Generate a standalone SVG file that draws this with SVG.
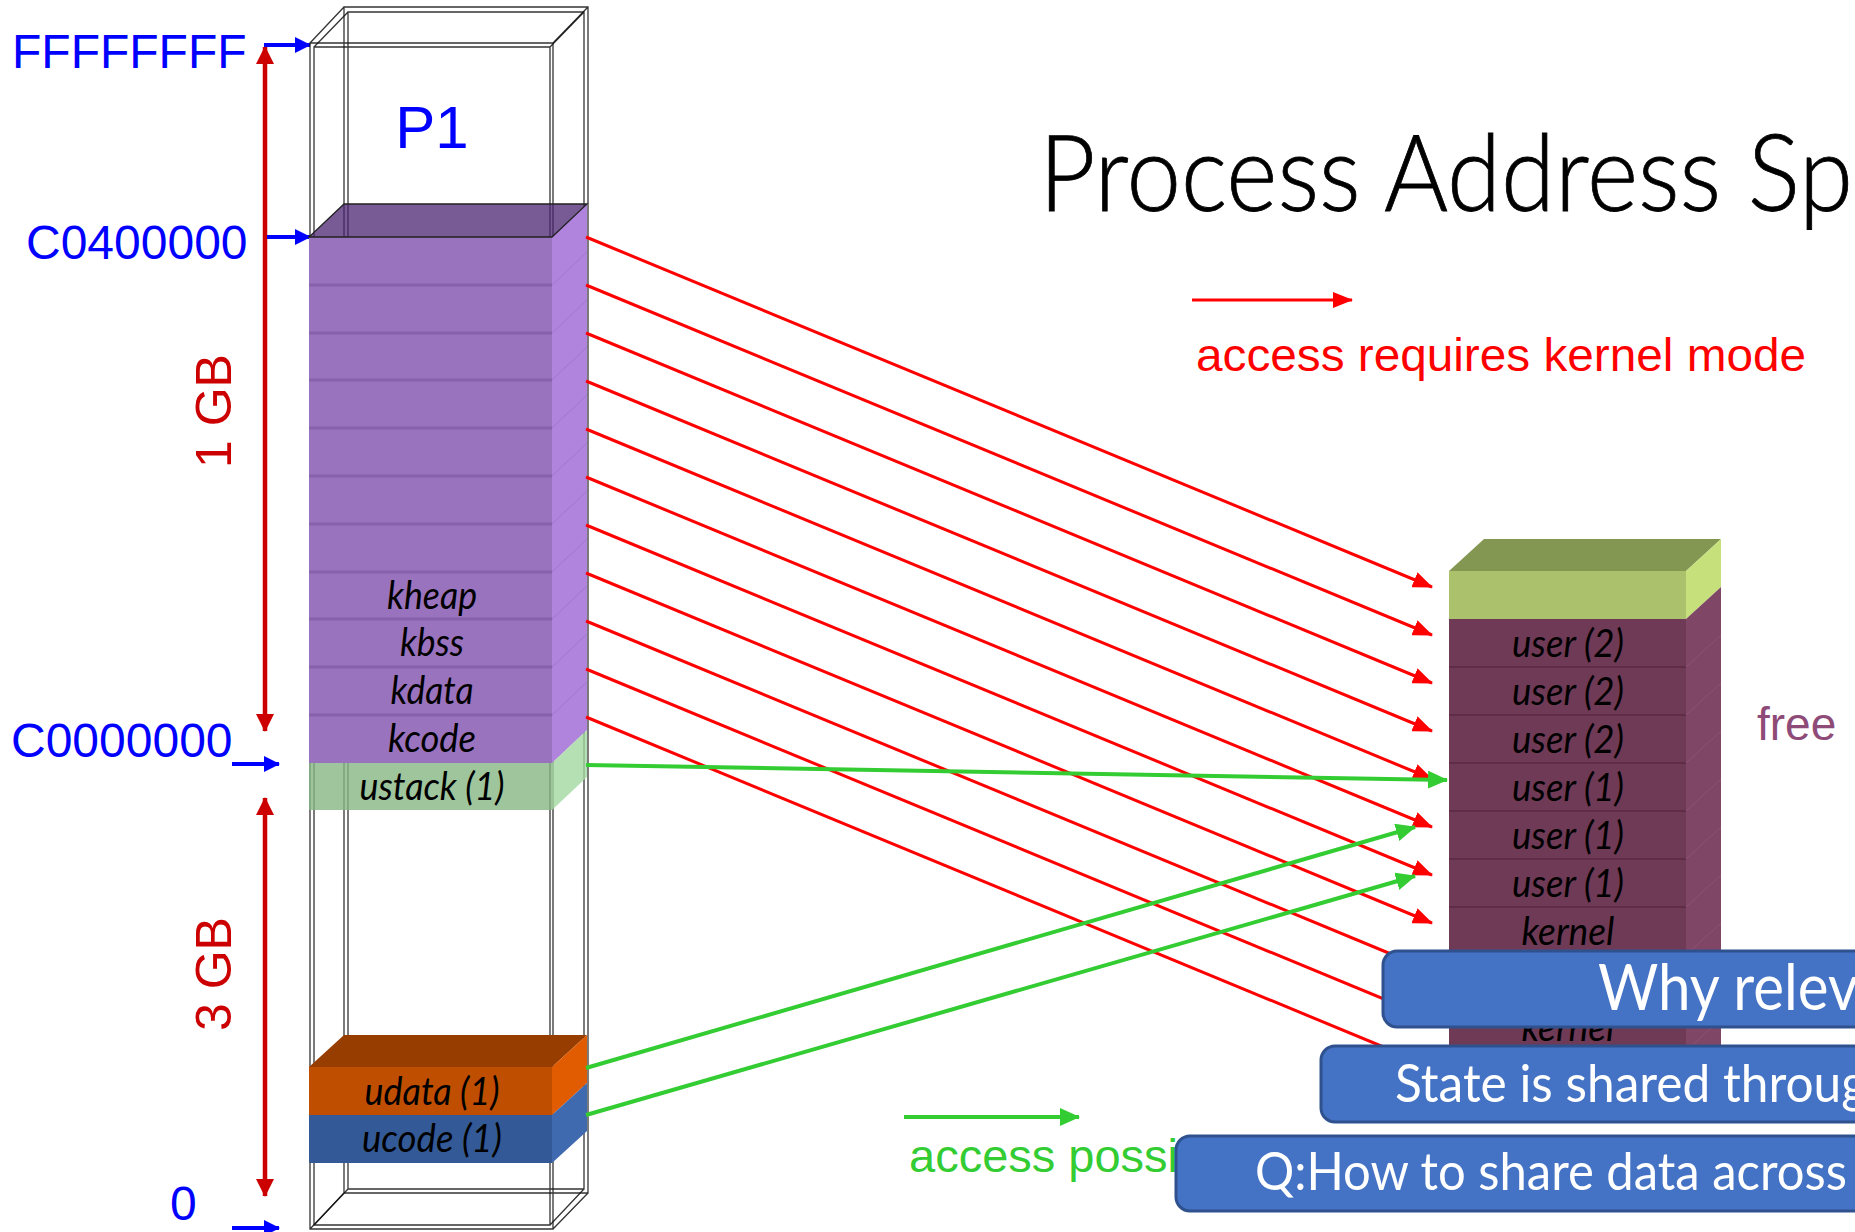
<svg xmlns="http://www.w3.org/2000/svg" width="1855" height="1232" viewBox="0 0 1855 1232">
<defs>
<style>
.wire{fill:none;stroke:#111;stroke-width:1.3;stroke-opacity:0.85}
.lbl{font-family:Lato,"Open Sans",sans-serif;font-style:italic;font-size:38px;fill:#000;text-anchor:middle}
.addr{font-family:"Liberation Sans",Arial,sans-serif;font-size:48px;fill:#0000FF}
.gb{font-family:"Liberation Sans",Arial,sans-serif;font-size:50px;fill:#CC0000;text-anchor:middle}
.leg{font-family:"Liberation Sans",Arial,sans-serif;font-size:47px}
.box{fill:#4472C4;stroke:#2F528F;stroke-width:3}
.btxt{font-family:Lato,"Open Sans",sans-serif;fill:#FFFFFF}
.pdiv{stroke:#8762AB;stroke-width:3}
.pdiag{stroke:#A178CF;stroke-width:1}
.mdiv{stroke:#5E2E47;stroke-width:2}
.mdiag{stroke:#8E5274;stroke-width:1}
.red{stroke:#FF0000;stroke-width:3;fill:none;marker-end:url(#ahRed)}
.grn{stroke:#33CC33;stroke-width:4;fill:none;marker-end:url(#ahGrn)}
.blu{stroke:#0000FF;stroke-width:4;fill:none;marker-end:url(#ahBlu)}
.dkr{stroke:#CC0000;stroke-width:4.5;fill:none;marker-start:url(#ahDkr);marker-end:url(#ahDkr)}
</style>
<marker id="ahRed" markerUnits="userSpaceOnUse" viewBox="0 0 20 16" markerWidth="20" markerHeight="16" refX="19" refY="8" orient="auto"><path d="M0,0 L20,8 L0,16 z" fill="#FF0000"/></marker>
<marker id="ahGrn" markerUnits="userSpaceOnUse" viewBox="0 0 20 18" markerWidth="20" markerHeight="18" refX="19" refY="9" orient="auto"><path d="M0,0 L20,9 L0,18 z" fill="#33CC33"/></marker>
<marker id="ahBlu" markerUnits="userSpaceOnUse" viewBox="0 0 16 16" markerWidth="16" markerHeight="16" refX="15" refY="8" orient="auto"><path d="M0,0 L16,8 L0,16 z" fill="#0000FF"/></marker>
<marker id="ahDkr" markerUnits="userSpaceOnUse" viewBox="0 0 18 18" markerWidth="18" markerHeight="18" refX="17" refY="9" orient="auto-start-reverse"><path d="M0,0 L18,9 L0,18 z" fill="#CC0000"/></marker>
</defs>
<rect width="1855" height="1232" fill="#FFFFFF"/>

<g id="title">
<text x="1039" y="211" font-family="Lato,'Open Sans',sans-serif" font-weight="300" font-size="106" fill="#000" textLength="814" lengthAdjust="spacingAndGlyphs" stroke="#000" stroke-width="0.8">Process Address Sp</text>
</g>

<g id="axis">
<text class="addr" x="12" y="68">FFFFFFFF</text>
<text class="addr" x="26" y="259">C0400000</text>
<text class="addr" x="11" y="757">C0000000</text>
<text class="addr" x="170" y="1220">0</text>
<text class="gb" transform="translate(231,411) rotate(-90)">1 GB</text>
<text class="gb" transform="translate(231,974) rotate(-90)">3 GB</text>
<line class="dkr" x1="265" y1="47" x2="265" y2="731"/>
<line class="dkr" x1="265" y1="798" x2="265" y2="1196"/>
<line class="blu" x1="264" y1="45" x2="310" y2="45"/>
<line class="blu" x1="267" y1="237" x2="310" y2="237"/>
<line class="blu" x1="232" y1="764" x2="279" y2="764"/>
<line class="blu" x1="232" y1="1228" x2="279" y2="1228"/>
</g>

<g id="p1-frame">
<path class="wire" d="M310,43 H553 V1229 H310 Z M344,7 H588 V1193 H344 Z M310,43 L344,7 M553,43 L588,7 M310,1229 L344,1193 M553,1229 L588,1193"/>
<path class="wire" d="M314,47 H550 V1225 H314 Z M348,12 H584 V1189 H348 Z M314,47 L348,12 M550,47 L584,12 M314,1225 L348,1189 M550,1225 L584,1189"/>
<text x="432" y="148" font-family="'Liberation Sans',Arial,sans-serif" font-size="60" fill="#0000FF" text-anchor="middle">P1</text>
</g>

<g id="p1-kernel">
<rect x="309" y="237" width="243" height="526" fill="#9A73BE"/>
<polygon points="552,237 587,204 587,730 552,763" fill="#B083DD"/>
<polygon points="309,237 552,237 587,204 344,204" fill="#4B2370" fill-opacity="0.75" stroke="#222" stroke-width="1.3"/>
<g>
<line class="pdiv" x1="309" y1="285" x2="552" y2="285"/>
<line class="pdiv" x1="309" y1="333" x2="552" y2="333"/>
<line class="pdiv" x1="309" y1="380" x2="552" y2="380"/>
<line class="pdiv" x1="309" y1="428" x2="552" y2="428"/>
<line class="pdiv" x1="309" y1="476" x2="552" y2="476"/>
<line class="pdiv" x1="309" y1="524" x2="552" y2="524"/>
<line class="pdiv" x1="309" y1="572" x2="552" y2="572"/>
<line class="pdiv" x1="309" y1="619" x2="552" y2="619"/>
<line class="pdiv" x1="309" y1="667" x2="552" y2="667"/>
<line class="pdiv" x1="309" y1="715" x2="552" y2="715"/>
<line class="pdiag" x1="552" y1="285" x2="587" y2="252"/>
<line class="pdiag" x1="552" y1="333" x2="587" y2="300"/>
<line class="pdiag" x1="552" y1="380" x2="587" y2="347"/>
<line class="pdiag" x1="552" y1="428" x2="587" y2="395"/>
<line class="pdiag" x1="552" y1="476" x2="587" y2="443"/>
<line class="pdiag" x1="552" y1="524" x2="587" y2="491"/>
<line class="pdiag" x1="552" y1="572" x2="587" y2="539"/>
<line class="pdiag" x1="552" y1="619" x2="587" y2="586"/>
<line class="pdiag" x1="552" y1="667" x2="587" y2="634"/>
<line class="pdiag" x1="552" y1="715" x2="587" y2="682"/>
</g>
<text class="lbl" x="432" y="609" textLength="90" lengthAdjust="spacingAndGlyphs">kheap</text>
<text class="lbl" x="432" y="656" textLength="64" lengthAdjust="spacingAndGlyphs">kbss</text>
<text class="lbl" x="432" y="704" textLength="83" lengthAdjust="spacingAndGlyphs">kdata</text>
<text class="lbl" x="432" y="752" textLength="88" lengthAdjust="spacingAndGlyphs">kcode</text>
</g>

<g id="p1-ustack">
<rect x="309" y="763" width="243" height="47" fill="#86B683" fill-opacity="0.8"/>
<polygon points="552,763 587,730 587,777 552,810" fill="#A3D8A1" fill-opacity="0.8"/>
<text class="lbl" x="432" y="800" textLength="145" lengthAdjust="spacingAndGlyphs">ustack (1)</text>
</g>

<g id="p1-udata">
<polygon points="309,1067 552,1067 587,1035 344,1035" fill="#983D00"/>
<rect x="309" y="1067" width="243" height="48" fill="#BF4E00"/>
<polygon points="552,1067 587,1035 587,1083 552,1115" fill="#E15B00"/>
<text class="lbl" x="432" y="1105" textLength="135" lengthAdjust="spacingAndGlyphs">udata (1)</text>
</g>

<g id="p1-ucode">
<rect x="309" y="1115" width="243" height="48" fill="#335A96"/>
<polygon points="552,1115 587,1083 587,1131 552,1163" fill="#3F6AB0"/>
<text class="lbl" x="432" y="1152" textLength="140" lengthAdjust="spacingAndGlyphs">ucode (1)</text>
</g>

<g id="phys-free">
<polygon points="1449,571 1686,571 1721,539 1484,539" fill="#849752"/>
<rect x="1449" y="571" width="237" height="48" fill="#ABC16B"/>
<polygon points="1686,571 1721,539 1721,587 1686,619" fill="#C6E07B"/>
</g>

<g id="phys-mem">
<rect x="1449" y="619" width="237" height="480" fill="#6F3A56"/>
<polygon points="1686,619 1721,587 1721,1067 1686,1099" fill="#804665"/>
<line class="mdiv" x1="1449" y1="667" x2="1686" y2="667"/>
<line class="mdiv" x1="1449" y1="715" x2="1686" y2="715"/>
<line class="mdiv" x1="1449" y1="763" x2="1686" y2="763"/>
<line class="mdiv" x1="1449" y1="811" x2="1686" y2="811"/>
<line class="mdiv" x1="1449" y1="859" x2="1686" y2="859"/>
<line class="mdiv" x1="1449" y1="907" x2="1686" y2="907"/>
<line class="mdiv" x1="1449" y1="955" x2="1686" y2="955"/>
<line class="mdiv" x1="1449" y1="1003" x2="1686" y2="1003"/>
<line class="mdiv" x1="1449" y1="1051" x2="1686" y2="1051"/>
<line class="mdiag" x1="1686" y1="667" x2="1721" y2="635"/>
<line class="mdiag" x1="1686" y1="715" x2="1721" y2="683"/>
<line class="mdiag" x1="1686" y1="763" x2="1721" y2="731"/>
<line class="mdiag" x1="1686" y1="811" x2="1721" y2="779"/>
<line class="mdiag" x1="1686" y1="859" x2="1721" y2="827"/>
<line class="mdiag" x1="1686" y1="907" x2="1721" y2="875"/>
<line class="mdiag" x1="1686" y1="955" x2="1721" y2="923"/>
<line class="mdiag" x1="1686" y1="1003" x2="1721" y2="971"/>
<line class="mdiag" x1="1686" y1="1051" x2="1721" y2="1019"/>
<text class="lbl" x="1568" y="657" textLength="112" lengthAdjust="spacingAndGlyphs">user (2)</text>
<text class="lbl" x="1568" y="705" textLength="112" lengthAdjust="spacingAndGlyphs">user (2)</text>
<text class="lbl" x="1568" y="753" textLength="112" lengthAdjust="spacingAndGlyphs">user (2)</text>
<text class="lbl" x="1568" y="801" textLength="112" lengthAdjust="spacingAndGlyphs">user (1)</text>
<text class="lbl" x="1568" y="849" textLength="112" lengthAdjust="spacingAndGlyphs">user (1)</text>
<text class="lbl" x="1568" y="897" textLength="112" lengthAdjust="spacingAndGlyphs">user (1)</text>
<text class="lbl" x="1568" y="945" textLength="93" lengthAdjust="spacingAndGlyphs">kernel</text>
<text class="lbl" x="1568" y="1041" textLength="93" lengthAdjust="spacingAndGlyphs">kernel</text>
</g>

<g id="free-label">
<text x="1757" y="740" font-family="'Liberation Sans',Arial,sans-serif" font-size="46" fill="#8F4B78">free</text>
</g>

<g id="connectors">
<line class="red" x1="586" y1="237" x2="1432" y2="587"/>
<line class="red" x1="586" y1="285" x2="1432" y2="635"/>
<line class="red" x1="586" y1="333" x2="1432" y2="683"/>
<line class="red" x1="586" y1="381" x2="1432" y2="731"/>
<line class="red" x1="586" y1="429" x2="1432" y2="779"/>
<line class="red" x1="586" y1="477" x2="1432" y2="827"/>
<line class="red" x1="586" y1="525" x2="1432" y2="875"/>
<line class="red" x1="586" y1="573" x2="1432" y2="923"/>
<line class="red" x1="586" y1="621" x2="1432" y2="971"/>
<line class="red" x1="586" y1="669" x2="1432" y2="1019"/>
<line class="red" x1="586" y1="717" x2="1432" y2="1067"/>
<line class="grn" x1="586" y1="765" x2="1447" y2="780"/>
<line class="grn" x1="586" y1="1068" x2="1415" y2="827"/>
<line class="grn" x1="586" y1="1115" x2="1415" y2="876"/>
</g>

<g id="legend">
<line class="red" x1="1192" y1="300" x2="1352" y2="300"/>
<text class="leg" x="1196" y="371" fill="#FF0000" textLength="610" lengthAdjust="spacingAndGlyphs">access requires kernel mode</text>
<line class="grn" x1="904" y1="1117" x2="1079" y2="1117"/>
<text class="leg" x="909" y="1172" fill="#33CC33">access possi</text>
</g>

<g id="box-why">
<rect class="box" x="1383" y="951" width="540" height="76" rx="14"/>
<text class="btxt" x="1598" y="1010" font-size="63" textLength="260" lengthAdjust="spacingAndGlyphs">Why relev</text>
</g>
<g id="box-state">
<rect class="box" x="1321" y="1046" width="600" height="76" rx="14"/>
<text class="btxt" x="1395" y="1102" font-size="53" textLength="472" lengthAdjust="spacingAndGlyphs">State is shared throug</text>
</g>
<g id="box-q">
<rect class="box" x="1176" y="1136" width="740" height="75" rx="14"/>
<text class="btxt" x="1255" y="1190" font-size="53" textLength="592" lengthAdjust="spacingAndGlyphs">Q:How to share data across</text>
</g>
</svg>
